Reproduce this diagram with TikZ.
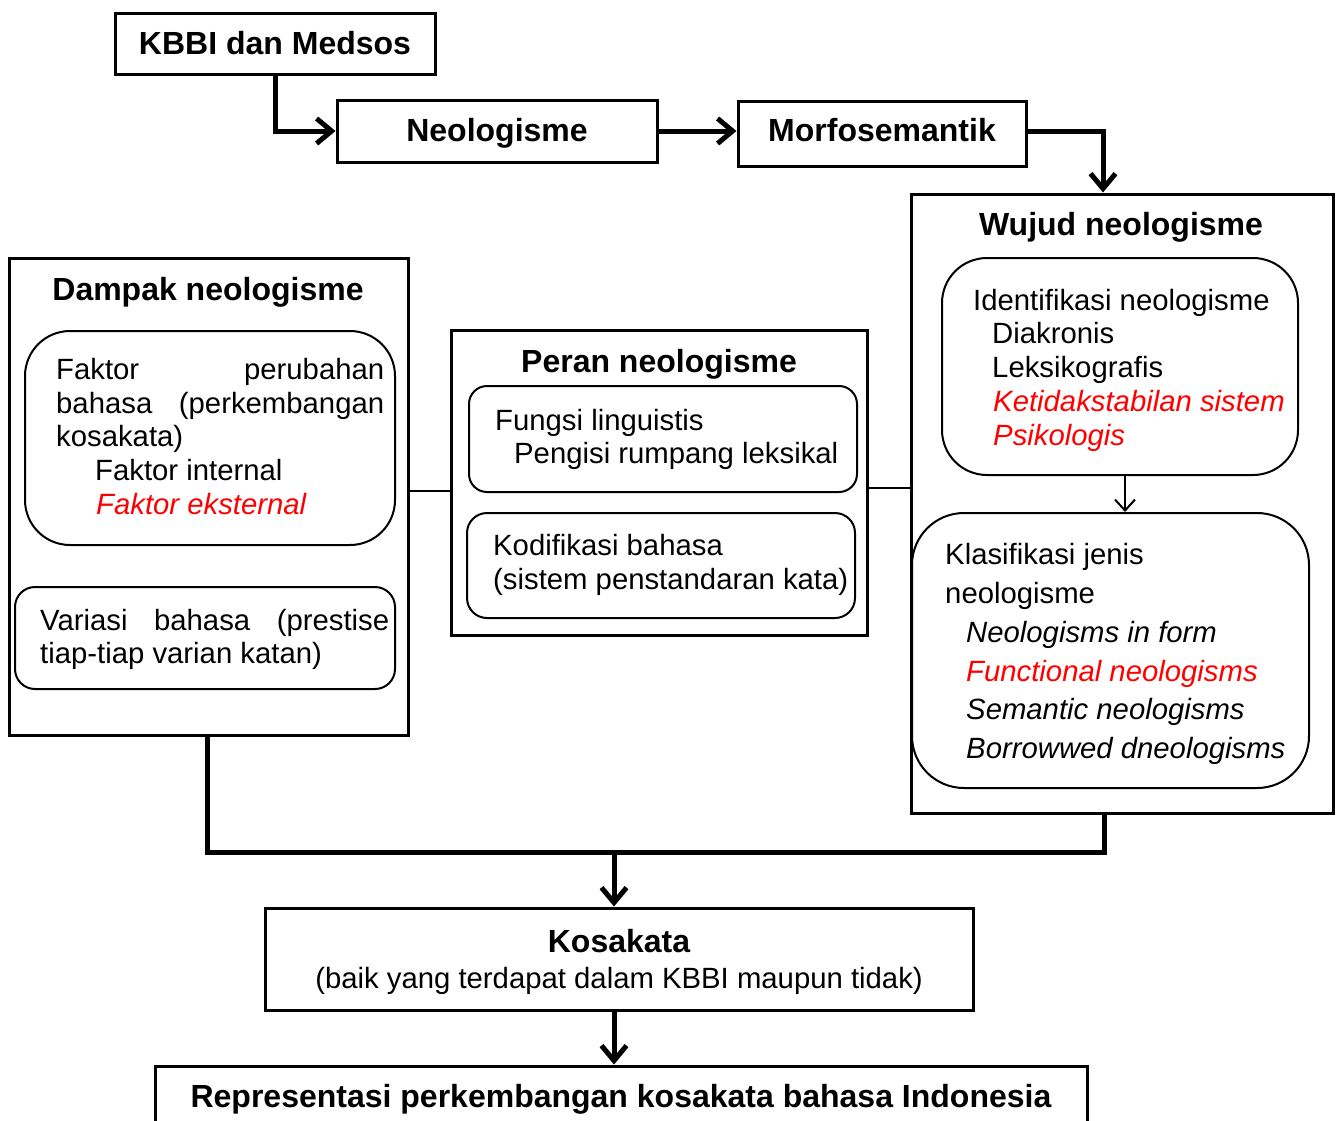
\documentclass[tikz,border=0pt]{standalone}
\usepackage{fontspec}
\setmainfont{Liberation Sans}
\usetikzlibrary{arrows.meta}
\begin{document}
\begin{tikzpicture}[x=1pt,y=-1pt,
  box/.style={draw,line width=3pt,inner sep=0pt},
  rbox/.style={draw,line width=2pt,inner sep=0pt,rounded corners=#1},
  txt/.style={anchor=base west,inner sep=0pt,font=\fontsize{29.3}{34}\selectfont},
  itl/.style={font=\fontsize{29.3}{34}\selectfont\itshape},
  redit/.style={text=red,font=\fontsize{29.3}{34}\selectfont\itshape},
  ttl/.style={anchor=base,inner sep=0pt,font=\fontsize{32}{36}\selectfont\bfseries},
  ctr/.style={anchor=base,inner sep=0pt,font=\fontsize{29.3}{34}\selectfont},
  thk/.style={line width=5pt},
  thkarr/.style={line width=5pt,-{Straight Barb[length=15pt,width=25pt]}},
  thinline/.style={line width=2pt},
  thinarr/.style={line width=2pt,-{Straight Barb[length=11pt,width=20pt]}}]
\useasboundingbox (0,0) rectangle (1339,1120);
% top chain
\node[box,minimum width=320pt,minimum height=61pt] (kbbi) at (275,43.5) {};
\node[ttl] (kbbit) at (275,54.5) {KBBI dan Medsos};
\node[box,minimum width=320pt,minimum height=62pt] (neo) at (497,131) {};
\node[ttl] (neot) at (497,141.5) {Neologisme};
\node[box,minimum width=288pt,minimum height=65pt] (morf) at (882,133.5) {};
\node[ttl] (morft) at (882,141.5) {Morfosemantik};
% Wujud
\node[box,minimum width=422pt,minimum height=619pt] (wujud) at (1122,503.5) {};
\node[ttl] (wujudt) at (1121,235.5) {Wujud neologisme};
\node[rbox=45pt,minimum width=356pt,minimum height=217pt] (ident) at (1120,366.5) {};
\node[txt] (i1) at (973,310.5) {Identifikasi neologisme};
\node[txt] (i2) at (992,343.5) {Diakronis};
\node[txt] (i3) at (992,377.5) {Leksikografis};
\node[txt,redit] (i4) at (993,411.5) {Ketidakstabilan sistem};
\node[txt,redit] (i5) at (993,445.5) {Psikologis};
\node[rbox=52pt,minimum width=397pt,minimum height=275pt] (klas) at (1110.5,650.5) {};
\node[txt] (k1) at (945,564.5) {Klasifikasi jenis};
\node[txt] (k2) at (945,603.5) {neologisme};
\node[txt,itl] (k3) at (966,642.5) {Neologisms in form};
\node[txt,redit] (k4) at (966,681.5) {Functional neologisms};
\node[txt,itl] (k5) at (966,719.5) {Semantic neologisms};
\node[txt,itl] (k6) at (966,758.5) {Borrowwed dneologisms};
% Dampak
\node[box,minimum width=399pt,minimum height=477pt] (dampak) at (208.5,496.5) {};
\node[ttl] (dampakt) at (208,300.5) {Dampak neologisme};
\node[rbox=45pt,minimum width=370pt,minimum height=214pt] (faktor) at (210,438) {};
\node[txt] (f1) at (56,379.5) {\makebox[328pt][s]{Faktor perubahan}};
\node[txt] (f2) at (56,413.5) {\makebox[328pt][s]{bahasa (perkembangan}};
\node[txt] (f3) at (56,446.5) {kosakata)};
\node[txt] (f4) at (95,480.5) {Faktor internal};
\node[txt,redit] (f5) at (96,514.5) {Faktor eksternal};
\node[rbox=20pt,minimum width=380pt,minimum height=102pt] (variasi) at (205,638) {};
\node[txt] (v1) at (40,630.5) {\makebox[349pt][s]{Variasi bahasa (prestise}};
\node[txt] (v2) at (40,663.5) {tiap-tiap varian katan)};
% Peran
\node[box,minimum width=416pt,minimum height=305pt] (peran) at (659,482.5) {};
\node[ttl] (perant) at (659,372.5) {Peran neologisme};
\node[rbox=18pt,minimum width=388pt,minimum height=106pt] (fungsi) at (663,439) {};
\node[txt] (p1) at (495,430.5) {Fungsi linguistis};
\node[txt] (p2) at (514,463.5) {Pengisi rumpang leksikal};
\node[rbox=20pt,minimum width=388pt,minimum height=105pt] (kodif) at (661,565.5) {};
\node[txt] (p3) at (493,555.5) {Kodifikasi bahasa};
\node[txt] (p4) at (493,589.5) {(sistem penstandaran kata)};
% bottom
\node[box,minimum width=708pt,minimum height=102pt] (kosa) at (619,959) {};
\node[ttl] (kosat) at (619,952.5) {Kosakata};
\node[ctr] (kosas) at (619,988.5) {(baik yang terdapat dalam KBBI maupun tidak)};
\node[box,minimum width=932pt,minimum height=62pt] (repr) at (621,1097) {};
\node[ttl] (reprt) at (621,1107.5) {Representasi perkembangan kosakata bahasa Indonesia};
\coordinate (merge) at (614,852);
% connectors
\draw[thkarr] (kbbi.south) |- (neo.west);
\draw[thkarr] (neo.east) -- (morf.west |- neo.east);
\draw[thkarr] (morf.east |- neo.east) -| ([xshift=-19pt]wujud.north);
\draw[thinline] ([yshift=5.5pt]dampak.east) -- ([yshift=5.5pt]dampak.east -| peran.west);
\draw[thinline] ([yshift=-5.5pt]peran.east) -- ([yshift=-5.5pt]peran.east -| wujud.west);
\draw[thinarr] ([xshift=5pt]ident.south) -- ([xshift=5pt]ident.south |- klas.north);
\draw[thk] ([xshift=-1.5pt]dampak.south) |- ([xshift=-18pt]wujud.south |- merge) -- ([xshift=-18pt]wujud.south);
\draw[thkarr] (merge) -- (merge |- kosa.north);
\draw[thkarr] (merge |- kosa.south) -- (merge |- repr.north);
\end{tikzpicture}
\end{document}
